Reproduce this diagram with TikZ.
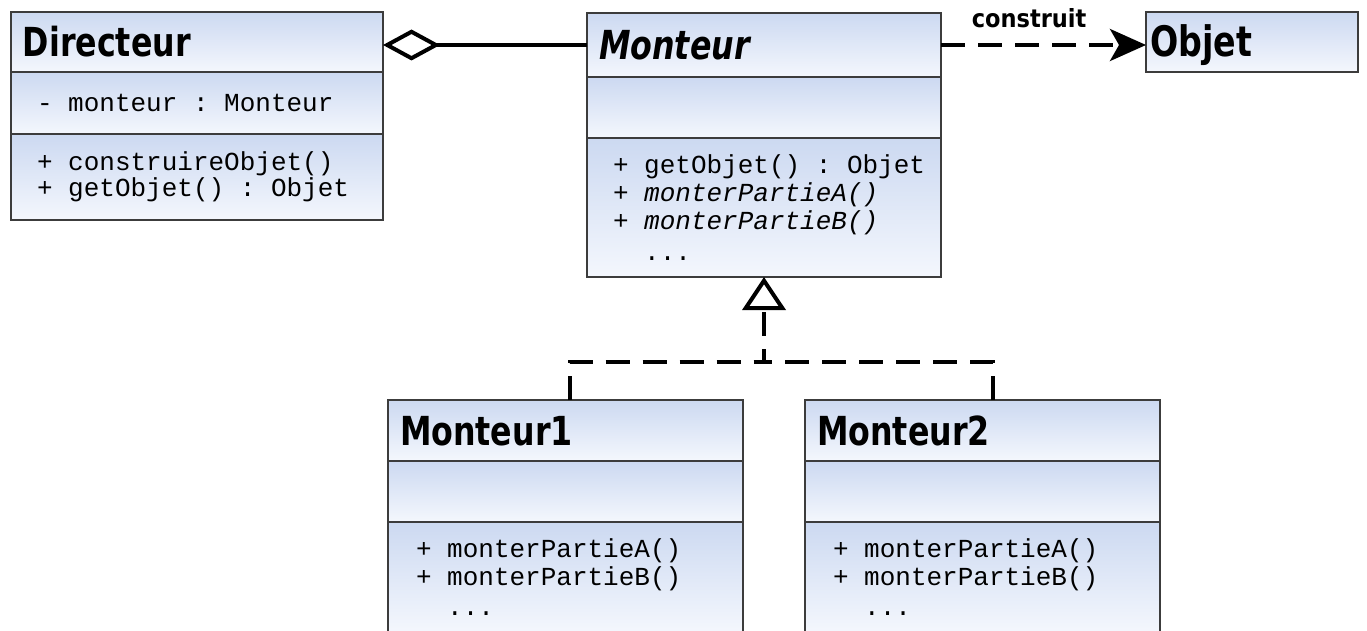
\documentclass[tikz,border=0pt]{standalone}
\usepackage{fontspec}
\newfontfamily\titlefont{DejaVu Sans Condensed}[FakeStretch=0.88]
\newfontfamily\labelfont{DejaVu Sans Condensed}
\newfontfamily\codefont{Liberation Mono}
\usetikzlibrary{arrows.meta,calc}
\definecolor{umltop}{RGB}{204,217,241}
\definecolor{umlbot}{RGB}{244,247,253}
\definecolor{umlline}{RGB}{60,60,60}
\newcommand\gap{\hphantom{x}}
\tikzset{
	part/.style={draw=umlline, line width=1.6pt, top color=umltop, bottom color=umlbot,
		anchor=north west, outer sep=0pt, inner sep=0pt, align=left},
	ttl/.style={part, font=\titlefont\bfseries\fontsize{40}{40}\selectfont, text height=29pt, text depth=0pt},
	ops/.style={part, font=\codefont\fontsize{26}{28}\selectfont},
	link/.style={line width=4pt},
	dashlink/.style={link, dash pattern=on 24pt off 13pt},
}

\begin{document}
\begin{tikzpicture}[x=1pt, y=-1pt]
			%%%%% START %%%%%
			\useasboundingbox (0,0) rectangle (1367,631);
			
			% Directeur
			\node[ttl, minimum width=372pt, minimum height=60pt, text width=348pt] (dirT) at (11,12) {Directeur};
			\node[ops, minimum width=372pt, minimum height=62pt, text width=320pt] (dirA) at (dirT.south west) {\mbox{-\gap monteur\gap:\gap Monteur}};
			\node[ops, minimum width=372pt, minimum height=86pt, text width=320pt] (dirM) at (dirA.south west) {\mbox{+\gap construireObjet()}\\[-2pt]\mbox{+\gap getObjet()\gap:\gap Objet}};
			
			% Monteur
			\node[ttl, minimum width=354pt, minimum height=64pt, text width=330pt] (monT) at (587,13) {\itshape Monteur};
			\node[ops, minimum width=354pt, minimum height=61pt, text width=302pt] (monA) at (monT.south west) {};
			\node[ops, minimum width=354pt, minimum height=139pt, text width=302pt] (monM) at (monA.south west) {\mbox{+\gap getObjet()\gap:\gap Objet}\\\mbox{+\gap\textit{monterPartieA()}}\\\mbox{+\gap\textit{monterPartieB()}}\\[3pt]\gap\gap...};
			
			% Objet
			\node[ttl, font=\titlefont\bfseries\fontsize{42}{42}\selectfont, minimum width=212pt, minimum height=60pt, text width=204pt] (objT) at (1146,12) {Objet};
			
			% Monteur1, Monteur2
			\node[ttl, minimum width=355pt, minimum height=61pt, text width=331pt] (m1T) at (388,400) {Monteur1};
			\node[ops, minimum width=355pt, minimum height=61pt, text width=299pt] (m1A) at (m1T.south west) {};
			\node[ops, minimum width=355pt, minimum height=110pt, text width=299pt] (m1M) at (m1A.south west) {\mbox{+\gap monterPartieA()}\\\mbox{+\gap monterPartieB()}\\[2pt]\gap\gap...};
			
			\node[ttl, minimum width=355pt, minimum height=61pt, text width=331pt] (m2T) at (805,400) {Monteur2};
			\node[ops, minimum width=355pt, minimum height=61pt, text width=299pt] (m2A) at (m2T.south west) {};
			\node[ops, minimum width=355pt, minimum height=110pt, text width=299pt] (m2M) at (m2A.south west) {\mbox{+\gap monterPartieA()}\\\mbox{+\gap monterPartieB()}\\[2pt]\gap\gap...};
			
			% links
			\draw[link, {Diamond[open, length=57pt, width=31pt]}-] (dirT.east |- monT.west) -- (monT.west);
			\draw[dashlink, -{Stealth[length=36pt, width=32pt, inset=9pt]}] (monT.east) -- (monT.east -| objT.west)
				node[pos=0.43, above=15pt, inner sep=0pt, font=\labelfont\bfseries\fontsize{25}{25}\selectfont] (lblC) {construit};
			
			\coordinate (hub) at ($(monM.south)+(0,85)$);
			\draw[dashlink, -{Triangle[open, length=33pt, width=43pt]}] ([xshift=4pt]m1T.north) |- (hub) -- (monM.south);
			\draw[dashlink] ([xshift=10pt]m2T.north) |- (hub);
			
			%%%%% END %%%%%
\end{tikzpicture}
\end{document}
